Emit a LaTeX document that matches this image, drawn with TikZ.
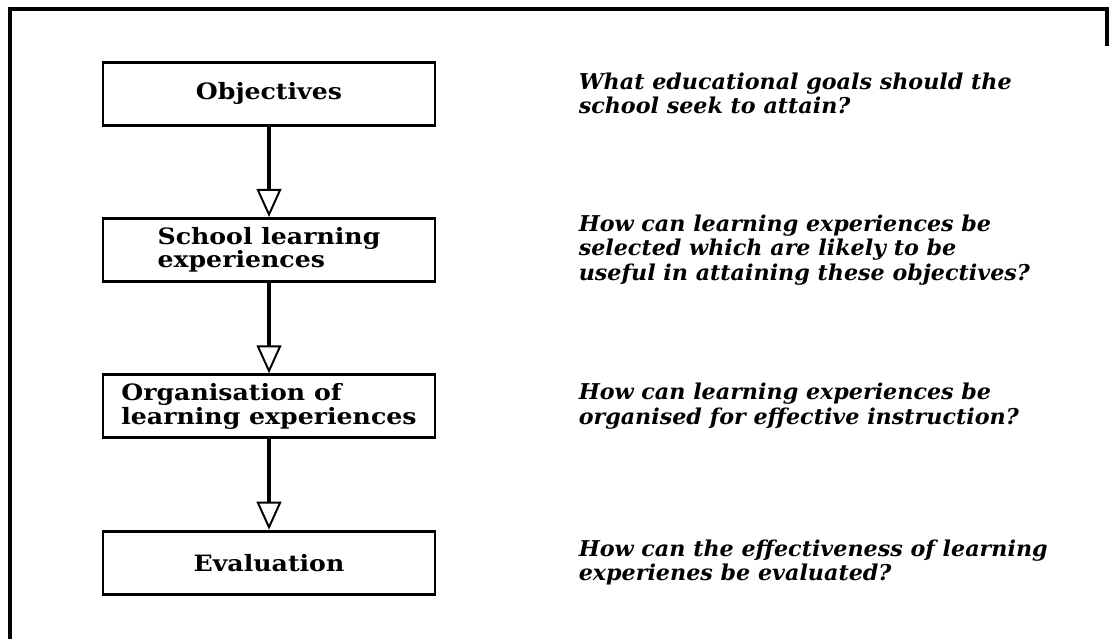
\documentclass[tikz,border=0pt]{standalone}
\usepackage{fontspec}
\setmainfont{DejaVu Serif}
\newfontfamily\stagefont[FakeStretch=1.12]{DejaVu Serif}
\newfontfamily\questfont[FakeStretch=1.02]{DejaVu Serif}
\usetikzlibrary{positioning, arrows.meta}
\tikzset{>={Triangle[length=0.7cm, width=0.62cm, fill=white, line width=1.4pt]},
node distance=2.26cm,
stage/.style={draw, line width=2.1pt, minimum width=8.3cm, minimum height=1.575cm,
  inner sep=0pt, align=left, font=\stagefont\bfseries\fontsize{16}{15.5}\selectfont},
question/.style={align=left, inner sep=0pt, font=\questfont\bfseries\itshape\fontsize{15.5}{17.4}\selectfont},
flow/.style={->, line width=3pt}}

\begin{document}
\begin{tikzpicture}
\useasboundingbox (0,0) rectangle (27.725,-15.975);
% outer frame, cut off at the bottom and the right
\draw[line width=2.2pt] (0.25,-15.975) -- (0.25,-0.225) -- (27.675,-0.225) -- (27.675,-1.15);

\node[stage] (obj) at (6.725,-2.34) {Objectives};
\node[stage, below=of obj] (sle) {School learning\\experiences};
\node[stage, below=of sle] (org) {Organisation of\\learning experiences};
\node[stage, below=of org] (eval) {Evaluation};

\node[question, right=3.55cm of obj] (qobj) {What educational goals should the\\school seek to attain?};
\node[question, right=3.55cm of sle] (qsle) {How can learning experiences be\\selected which are likely to be\\useful in attaining these objectives?};
\node[question, right=3.55cm of org] (qorg) {How can learning experiences be\\organised for effective instruction?};
\node[question, right=3.55cm of eval] (qeval) {How can the effectiveness of learning\\experienes be evaluated?};

\draw[flow] (obj) -- (sle);
\draw[flow] (sle) -- (org);
\draw[flow] (org) -- (eval);
\end{tikzpicture}
\end{document}
